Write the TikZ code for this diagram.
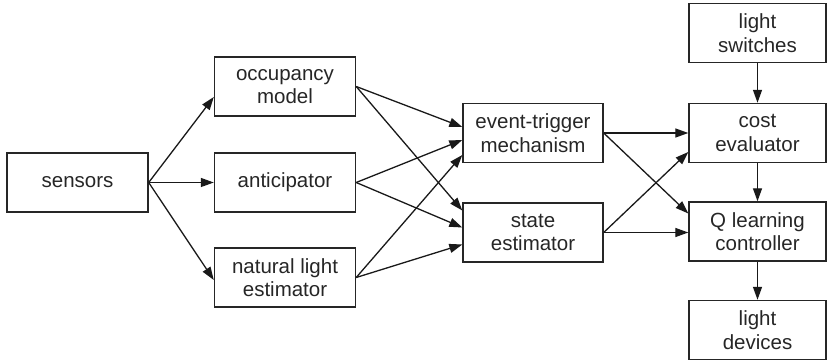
\documentclass[tikz,border=0pt]{standalone}
\usepackage{fontspec}
\setmainfont{Liberation Sans}
\usetikzlibrary{arrows.meta}
\begin{document}
\begin{tikzpicture}[x=1pt,y=-1pt,
  box/.style={draw=black!85, line width=1.4pt, rectangle, minimum width=141pt, minimum height=59pt,
    align=center, inner sep=0pt, font=\fontsize{20.5}{23.5}\selectfont, text=black!85},
  conn/.style={draw=black!90, line width=1.3pt, -{Triangle[length=13pt,width=9pt]}}]
\useasboundingbox (0,0) rectangle (829,363);
\node[box] (sensors) at (77.5,182.5) {sensors};
\node[box] (occ) at (285,86.5) {occupancy\\model};
\node[box] (ant) at (285,182.5) {anticipator};
\node[box] (nat) at (285,277.5) {natural light\\estimator};
\node[box, minimum width=140pt] (et) at (533,133) {event-trigger\\mechanism};
\node[box, minimum width=140pt] (se) at (533,232.5) {state\\estimator};
\node[box, minimum width=137pt] (ls) at (757.5,33) {light\\switches};
\node[box, minimum width=137pt] (ce) at (757.5,133) {cost\\evaluator};
\node[box, minimum width=137pt] (ql) at (757.5,231.5) {Q learning\\controller};
\node[box, minimum width=137pt] (ld) at (757.5,330) {light\\devices};

\draw[conn] (sensors.east) -- ([yshift=-10.5pt]occ.west);
\draw[conn] (sensors.east) -- (ant.west);
\draw[conn] (sensors.east) -- ([yshift=-2.5pt]nat.west);

\draw[conn] (occ.east) -- ([yshift=6pt]et.west);
\draw[conn] (occ.east) -- ([yshift=22pt]se.west);
\draw[conn] (ant.east) -- ([yshift=-7pt]et.west);
\draw[conn] (ant.east) -- ([yshift=5pt]se.west);
\draw[conn] (nat.east) -- ([yshift=-22pt]et.west);
\draw[conn] (nat.east) -- ([yshift=-12pt]se.west);

\draw[conn] (et.east) -- (ce.west);
\draw[conn] (et.east) -- ([yshift=18pt]ql.west);
\draw[conn] (se.east) -- ([yshift=-19pt]ce.west);
\draw[conn] (se.east) -- ([yshift=-1pt]ql.west);

\draw[conn] (ls.south) -- (ce.north);
\draw[conn] (ce.south) -- (ql.north);
\draw[conn] (ql.south) -- (ld.north);
\end{tikzpicture}
\end{document}
